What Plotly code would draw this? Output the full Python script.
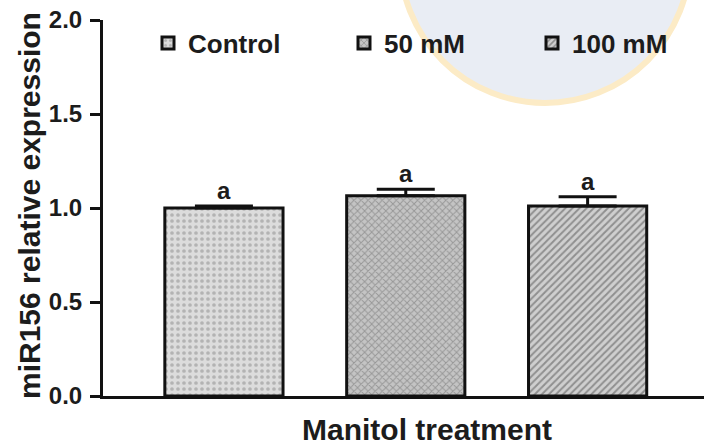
import plotly.graph_objects as go

categories = ["Control", "50 mM", "100 mM"]
means = [1.00, 1.065, 1.01]
errors = [0.01, 0.035, 0.05]
letters = ["a", "a", "a"]
patterns = [".", "x", "/"]
ytick_vals = [0.0, 0.5, 1.0, 1.5, 2.0]
ytick_text = ["0.0", "0.5", "1.0", "1.5", "2.0"]

FONT = "Liberation Sans, Arial, sans-serif"
TXT = "#1c1c1c"
W, H = 704, 448
L, R, T, B = 103, 0, 20, 52
pw, ph = W - L - R, H - T - B

def px(x):
    return (x - L) / pw

def py(y):
    return (H - B - y) / ph

styles = [
    dict(fg="#8a8a8a", bg="#dcdcdc", size=6, sol=0.3),
    dict(fg="#6a6a6a", bg="#c4c4c4", size=5, sol=0.35),
    dict(fg="#505050", bg="#cfcfcf", size=5, sol=0.4),
]
legend_names = ["legend", "legend2", "legend3"]
legend_text_x = [188, 384, 572]

fig = go.Figure()
for i, cat in enumerate(categories):
    s = styles[i]
    fig.add_trace(go.Bar(
        x=[cat], y=[means[i]], name=cat, width=0.65, legend=legend_names[i],
        marker=dict(color=s["bg"], line=dict(color="#111", width=3),
                    pattern=dict(shape=patterns[i], fgcolor=s["fg"],
                                 bgcolor=s["bg"], size=s["size"], solidity=s["sol"])),
        error_y=dict(type="data", array=[errors[i]], arrayminus=[0], symmetric=False,
                     color="#111", thickness=3, width=29),
    ))
    fig.add_annotation(x=cat, y=means[i] + errors[i], text=letters[i],
                       showarrow=False, yanchor="bottom", yshift=0,
                       font=dict(family=FONT, size=24, color=TXT, weight="bold"))

# faint watermark behind the chart
fig.add_shape(type="circle", xref="paper", yref="paper",
              x0=px(400), x1=px(690), y0=py(103), y1=py(-187),
              fillcolor="#e9edf4", line=dict(color="#fcebc6", width=6), layer="below")

fig.add_annotation(xref="paper", yref="paper", x=px(29), y=py(206),
                   xanchor="center", yanchor="middle",
                   text="miR156 relative expression", textangle=-90,
                   showarrow=False, font=dict(family=FONT, size=30, color=TXT, weight="bold"))
fig.add_annotation(xref="paper", yref="paper", x=px(427), y=py(429),
                   xanchor="center", yanchor="middle",
                   text="Manitol treatment",
                   showarrow=False, font=dict(family=FONT, size=30, color=TXT, weight="bold"))

legend_common = dict(orientation="h", xanchor="left", yanchor="middle",
                     font=dict(family=FONT, size=26, color=TXT, weight="bold"),
                     bgcolor="rgba(0,0,0,0)", itemwidth=30)
layout_legends = {}
for i, name in enumerate(legend_names):
    layout_legends[name] = dict(legend_common, x=px(legend_text_x[i] - 40), y=py(43))

fig.update_layout(
    width=W, height=H, margin=dict(l=L, r=R, t=T, b=B),
    paper_bgcolor="white", plot_bgcolor="rgba(0,0,0,0)",
    barmode="overlay", showlegend=True,
    xaxis=dict(range=[-0.665, 2.64], showticklabels=False, ticks="",
               showline=True, linecolor="#111", linewidth=3, showgrid=False, zeroline=False),
    yaxis=dict(range=[0, 2.0], tickvals=ytick_vals, ticktext=ytick_text,
               ticks="outside", ticklen=10, tickwidth=3, tickcolor="#111",
               ticklabelstandoff=3,
               showline=True, linecolor="#111", linewidth=3, showgrid=False, zeroline=False,
               tickfont=dict(family=FONT, size=24, color=TXT, weight="bold")),
    **layout_legends,
)
fig.write_html("out.html")
